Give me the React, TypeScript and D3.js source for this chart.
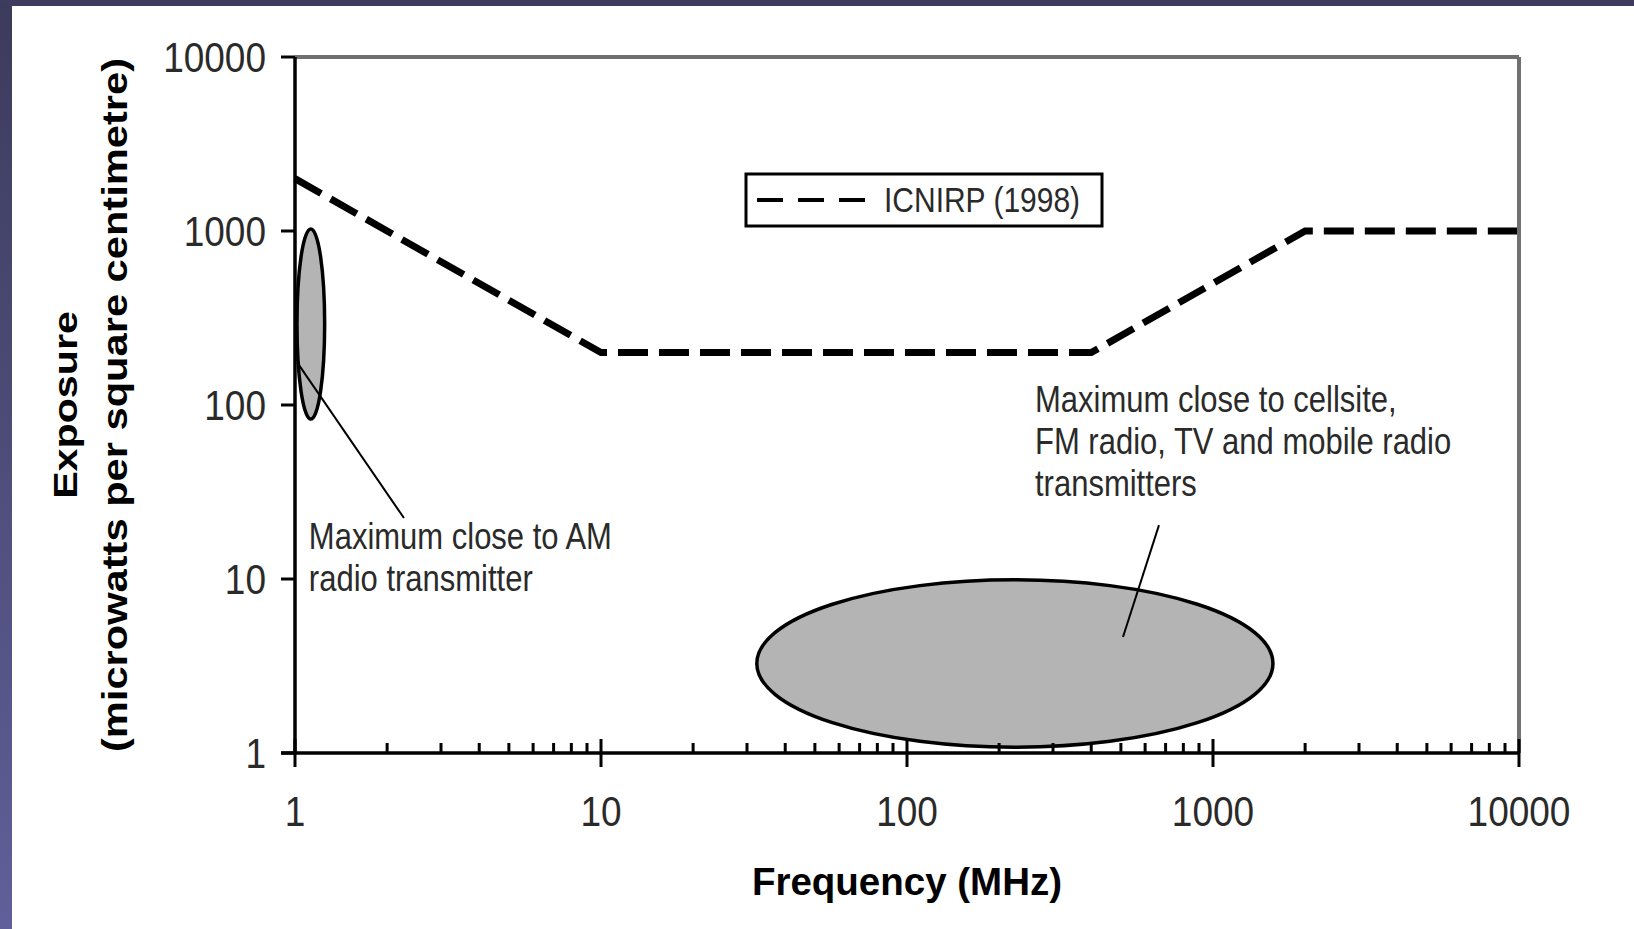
import React from 'react';
import * as d3 from 'd3';

// ICNIRP (1998) reference level, frequency in MHz, exposure in microwatts/cm2
const icnirpFreq = [1, 10, 400, 2000, 10000];
const icnirpExposure = [2000, 200, 200, 1000, 1000];

// measured maxima shown as shaded regions: [min, max]
const amFreqRange = [1.015, 1.25];
const amExposureRange = [83, 1027];
const cellFreqRange = [32.3, 1570];
const cellExposureRange = [1.08, 9.9];

const majorTicks = [1, 10, 100, 1000, 10000];
const tickLabels = ['1', '10', '100', '1000', '10000'];

const amLabelLines = ['Maximum close to AM', 'radio transmitter'];
const cellLabelLines = ['Maximum close to cellsite,', 'FM radio, TV and mobile radio', 'transmitters'];
// leader lines: [freq, exposure] pairs
const amLeader: Array<[number, number]> = [[1.02, 174], [2.27, 22.4]];
const cellLeader: Array<[number, number]> = [[666, 20.4], [508, 4.64]];
const amLabelAt: [number, number] = [1.11, 14.9];
const cellLabelAt: [number, number] = [262, 91];

const W = 1634;
const H = 929;
const M = { left: 295, right: 1519, top: 57, bottom: 753 };
const FONT = '"Liberation Sans", Arial, sans-serif';

const x = d3.scaleLog().domain([1, 10000]).range([M.left, M.right]);
const y = d3.scaleLog().domain([1, 10000]).range([M.bottom, M.top]);

const STextLines: React.FC<{ at: [number, number]; lines: string[] }> = ({ at, lines }) => (
  <g>
    {lines.map((l, i) => (
      <text
        key={i}
        transform={`translate(${x(at[0])},${y(at[1]) + i * 42}) scale(1,1.18)`}
        fontSize={31}
        fill="#2a2a2a"
        fontFamily={FONT}
      >
        {l}
      </text>
    ))}
  </g>
);

function ellipseOf(fr: number[], er: number[]) {
  const x0 = x(fr[0]), x1 = x(fr[1]);
  const y0 = y(er[1]), y1 = y(er[0]);
  return { cx: (x0 + x1) / 2, cy: (y0 + y1) / 2, rx: (x1 - x0) / 2, ry: (y1 - y0) / 2 };
}

export default function App() {
  const line = d3
    .line<number>()
    .x((_, i) => x(icnirpFreq[i]))
    .y((d) => y(d));
  const leader = d3.line<[number, number]>().x((d) => x(d[0])).y((d) => y(d[1]));
  const minor = x.ticks().filter((t) => !majorTicks.includes(t));
  const am = ellipseOf(amFreqRange, amExposureRange);
  const cell = ellipseOf(cellFreqRange, cellExposureRange);

  return (
    <svg
      width={W}
      height={H}
      style={{ position: 'absolute', left: 0, top: 0, display: 'block', background: '#fff' }}
    >
      <defs>
        <linearGradient id="side" x1="0" y1="0" x2="0" y2="1">
          <stop offset="0" stopColor="#3c3b5c" />
          <stop offset="1" stopColor="#605f99" />
        </linearGradient>
      </defs>
      <rect x={0} y={0} width={12} height={H} fill="url(#side)" />
      <rect x={0} y={0} width={W} height={6} fill="#3d3c5e" />

      {/* shaded regions */}
      <ellipse {...am} fill="#b4b4b4" stroke="#000" strokeWidth={3.5} />
      <ellipse {...cell} fill="#b4b4b4" stroke="#000" strokeWidth={3.5} />

      {/* ICNIRP line */}
      <path
        d={line(icnirpExposure) || ''}
        fill="none"
        stroke="#000"
        strokeWidth={7}
        strokeDasharray="30,11"
      />

      {/* plot frame */}
      <line x1={M.left} x2={M.right} y1={M.top} y2={M.top} stroke="#707070" strokeWidth={4} />
      <line x1={M.right} x2={M.right} y1={M.top} y2={M.bottom} stroke="#707070" strokeWidth={4} />
      <line x1={M.left} x2={M.left} y1={M.top} y2={M.bottom} stroke="#000" strokeWidth={3.5} />
      <line x1={M.left - 14} x2={M.right} y1={M.bottom} y2={M.bottom} stroke="#000" strokeWidth={3.5} />

      {/* y axis */}
      {majorTicks.map((t, i) => (
        <g key={'y' + t}>
          <line x1={M.left - 14} x2={M.left} y1={y(t)} y2={y(t)} stroke="#000" strokeWidth={3} />
          <text
            transform={`translate(${M.left - 29},${y(t) + 15}) scale(1,1.17)`}
            textAnchor="end"
            fontSize={37}
            fill="#2a2a2a"
            fontFamily={FONT}
          >
            {tickLabels[i]}
          </text>
        </g>
      ))}

      {/* x axis */}
      {minor.map((t) => (
        <line key={'m' + t} x1={x(t)} x2={x(t)} y1={M.bottom - 10} y2={M.bottom} stroke="#000" strokeWidth={3} />
      ))}
      {majorTicks.map((t, i) => (
        <g key={'x' + t}>
          <line x1={x(t)} x2={x(t)} y1={M.bottom - 14} y2={M.bottom + 14} stroke="#000" strokeWidth={3} />
          <text
            transform={`translate(${x(t)},826) scale(1,1.16)`}
            textAnchor="middle"
            fontSize={37}
            fill="#2a2a2a"
            fontFamily={FONT}
          >
            {tickLabels[i]}
          </text>
        </g>
      ))}

      {/* axis titles */}
      <text
        x={(M.left + M.right) / 2}
        y={895}
        textAnchor="middle"
        fontSize={38.5}
        fontWeight="bold"
        fontFamily={FONT}
      >
        Frequency (MHz)
      </text>
      <text
        transform={`translate(77,${(M.top + M.bottom) / 2}) rotate(-90) scale(1.23,1)`}
        textAnchor="middle"
        fontSize={33.5}
        fontWeight="bold"
        fontFamily={FONT}
      >
        Exposure
      </text>
      <text
        transform={`translate(127,${(M.top + M.bottom) / 2}) rotate(-90) scale(1.19,1)`}
        textAnchor="middle"
        fontSize={35}
        fontWeight="bold"
        fontFamily={FONT}
      >
        (microwatts per square centimetre)
      </text>

      {/* annotations */}
      <path d={leader(amLeader) || ''} stroke="#000" strokeWidth={2} fill="none" />
      <path d={leader(cellLeader) || ''} stroke="#000" strokeWidth={2} fill="none" />
      <STextLines at={amLabelAt} lines={amLabelLines} />
      <STextLines at={cellLabelAt} lines={cellLabelLines} />

      {/* legend */}
      <rect x={746} y={174} width={356} height={52} fill="#fff" stroke="#000" strokeWidth={3} />
      <line x1={757} x2={865} y1={200} y2={200} stroke="#000" strokeWidth={4} strokeDasharray="26,15" />
      <text
        transform="translate(884,212) scale(1,1.15)"
        fontSize={30}
        fill="#2a2a2a"
        fontFamily={FONT}
      >
        ICNIRP (1998)
      </text>
    </svg>
  );
}
